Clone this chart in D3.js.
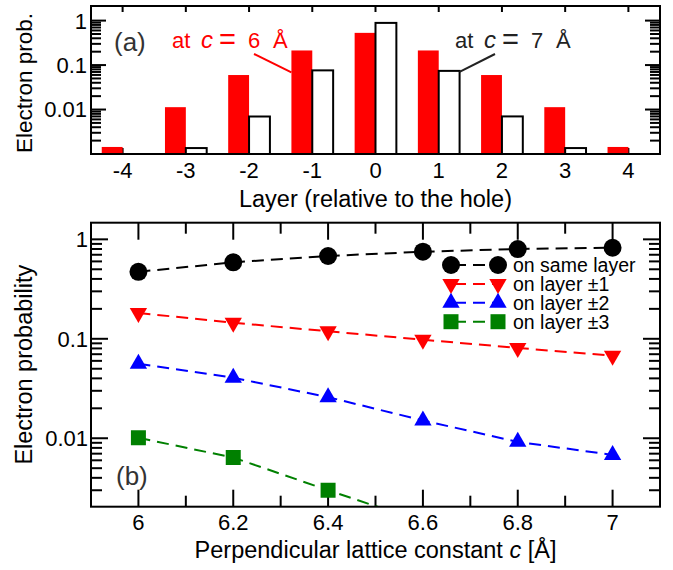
<!DOCTYPE html>
<html>
<head>
<meta charset="utf-8">
<script src="https://cdn.jsdelivr.net/npm/d3@7"></script>
<style>
  body { margin: 0; background: #fff; }
  svg { display: block; }
  text { font-family: 'Liberation Sans', Arial, Helvetica, sans-serif; }
</style>
</head>
<body>
<div id="chart"></div>
<script>
// panel (a): electron probability per layer
const layers = [-4, -3, -2, -1, 0, 1, 2, 3, 4];
const probC6 = [0.00144, 0.0113, 0.0597, 0.213, 0.53, 0.213, 0.0597, 0.0113, 0.00144];
const probC7 = [null, 0.00136, 0.00697, 0.076, 0.888, 0.074, 0.0070, 0.00136, null];

// panel (b): probability vs lattice constant
const latticeC = [6, 6.2, 6.4, 6.6, 6.8, 7];
const sameLayer = [0.472, 0.587, 0.68, 0.751, 0.799, 0.823];
const layer1 = [0.182, 0.145, 0.119, 0.098, 0.081, 0.0675];
const layer2 = [0.0561, 0.0406, 0.0259, 0.0151, 0.0092, 0.0068];
const layer3 = [0.0101, 0.0064, 0.0030, 0.00144]; // last point falls below the frame

const seriesB = [
  { name: 'on same layer', values: sameLayer, color: '#000000', shape: 'circle' },
  { name: 'on layer \u00b11', values: layer1, color: '#ff0000', shape: 'down' },
  { name: 'on layer \u00b12', values: layer2, color: '#0000ff', shape: 'up' },
  { name: 'on layer \u00b13', values: layer3, color: '#008000', shape: 'square' }
];

const xTicksB = [6, 6.2, 6.4, 6.6, 6.8, 7];
const yTicksA = [1, 0.1, 0.01];
const yTicksB = [1, 0.1, 0.01];

const W = 673, H = 570;
const svg = d3.select('#chart').append('svg').attr('width', W).attr('height', H);

const L = 91, R = 660;
const TICK_FS = 22, TITLE_FS = 23.5;

function minorLog(lo, hi) {
  const out = [];
  for (let e = -4; e <= 1; e++) {
    for (let k = 2; k <= 9; k++) {
      const v = k * Math.pow(10, e);
      if (v > lo && v < hi) out.push(v);
    }
  }
  return out;
}

function logTicks(g, y, majors, minors, majLen, minLen) {
  majors.forEach(v => {
    g.append('line').attr('x1', L).attr('x2', L + majLen).attr('y1', y(v)).attr('y2', y(v));
    g.append('line').attr('x1', R).attr('x2', R - majLen).attr('y1', y(v)).attr('y2', y(v));
  });
  minors.forEach(v => {
    g.append('line').attr('x1', L).attr('x2', L + minLen).attr('y1', y(v)).attr('y2', y(v));
    g.append('line').attr('x1', R).attr('x2', R - minLen).attr('y1', y(v)).attr('y2', y(v));
  });
}

// ---------------- panel (a) ----------------
const topA = 6, botA = 154;
const xa = d3.scaleLinear().domain([-4.5, 4.5]).range([L, R]);
const ya = d3.scaleLog().domain([0.001, 2.13]).range([botA, topA]);
const barW = 0.33;

const ga = svg.append('g');
const ticksA = ga.append('g').attr('stroke', '#000').attr('stroke-width', 2);
logTicks(ticksA, ya, yTicksA, minorLog(0.001, 1), 15, 10);
layers.forEach(v => {
  ticksA.append('line').attr('x1', xa(v)).attr('x2', xa(v)).attr('y1', topA).attr('y2', topA + 6);
  ticksA.append('line').attr('x1', xa(v)).attr('x2', xa(v)).attr('y1', botA).attr('y2', botA - 6);
});

ga.append('g').selectAll('rect')
  .data(layers.map((l, i) => ({ l, v: probC6[i] })))
  .join('rect')
  .attr('x', d => xa(d.l - barW))
  .attr('width', d => xa(d.l) - xa(d.l - barW))
  .attr('y', d => ya(d.v))
  .attr('height', d => botA - ya(d.v))
  .attr('fill', '#ff0000');

ga.append('g').selectAll('rect')
  .data(layers.map((l, i) => ({ l, v: probC7[i] })).filter(d => d.v))
  .join('rect')
  .attr('x', d => xa(d.l))
  .attr('width', d => xa(d.l + barW) - xa(d.l))
  .attr('y', d => ya(d.v))
  .attr('height', d => botA - ya(d.v))
  .attr('fill', '#fff')
  .attr('stroke', '#000')
  .attr('stroke-width', 2);

ga.append('rect').attr('x', L).attr('y', topA).attr('width', R - L).attr('height', botA - topA)
  .attr('fill', 'none').attr('stroke', '#000').attr('stroke-width', 2);

ga.append('g').selectAll('text').data(layers).join('text')
  .attr('x', d => xa(d)).attr('y', 178).attr('text-anchor', 'middle')
  .attr('font-size', TICK_FS).text(d => d);
ga.append('g').selectAll('text').data(yTicksA).join('text')
  .attr('x', 87).attr('y', d => ya(d)).attr('dy', '0.36em').attr('text-anchor', 'end')
  .attr('font-size', TICK_FS).text(d => d);

ga.append('text').attr('x', xa(0)).attr('y', 207).attr('text-anchor', 'middle')
  .attr('font-size', TITLE_FS).text('Layer (relative to the hole)');
ga.append('text').attr('transform', `translate(32,${(topA + botA) / 2 + 3}) rotate(-90)`)
  .attr('text-anchor', 'middle').attr('font-size', 22.5).text('Electron prob.');

ga.append('text').attr('x', 114).attr('y', 51).attr('font-size', 26)
  .attr('fill', '#333').attr('font-family', "'Open Sans', 'DejaVu Sans'").attr('font-weight', 300).text('(a)');

// "at c = N Å" labels, pieces placed like the typeset original
function annot(x, y, num, color) {
  const g = ga.append('g').attr('fill', color);
  g.append('text').attr('x', x).attr('y', y).attr('font-size', 22).text('at');
  g.append('text').attr('x', x + 29).attr('y', y).attr('font-size', 24)
    .attr('font-family', "'DejaVu Serif', serif").attr('font-style', 'italic').text('c');
  g.append('text').attr('x', x + 47).attr('y', y + 1).attr('font-size', 29)
    .attr('font-family', "'DejaVu Sans'").attr('font-weight', 300).text('=');
  g.append('text').attr('x', x + 76).attr('y', y).attr('font-size', 22).text(num);
  g.append('text').attr('x', x + 101).attr('y', y).attr('font-size', 22).text('\u00c5');
}
annot(172, 48, 6, '#ff0000');
annot(455, 48, 7, '#222');

ga.append('line').attr('x1', 254).attr('y1', 54)
  .attr('x2', xa(-1 - barW)).attr('y2', ya(probC6[3]) + 22)
  .attr('stroke', '#ff0000').attr('stroke-width', 2);
ga.append('line').attr('x1', 495).attr('y1', 54)
  .attr('x2', xa(1 + barW)).attr('y2', ya(probC7[5]) + 1)
  .attr('stroke', '#222').attr('stroke-width', 2);

// ---------------- panel (b) ----------------
const topB = 222.7, botB = 506.7;
const xb = d3.scaleLinear().domain([5.9, 7.1]).range([L, R]);
const yb = d3.scaleLog().domain([0.00205, 1.47]).range([botB, topB]);

const gb = svg.append('g');
const ticksB = gb.append('g').attr('stroke', '#000').attr('stroke-width', 2);
logTicks(ticksB, yb, yTicksB, minorLog(0.00205, 1), 17, 11);
d3.range(6, 7.05, 0.1).forEach((v, i) => {
  const len = i % 2 === 0 ? 17 : 11;
  ticksB.append('line').attr('x1', xb(v)).attr('x2', xb(v)).attr('y1', topB).attr('y2', topB + len);
  ticksB.append('line').attr('x1', xb(v)).attr('x2', xb(v)).attr('y1', botB).attr('y2', botB - len);
});

gb.append('clipPath').attr('id', 'clipB').append('rect')
  .attr('x', L).attr('y', topB).attr('width', R - L).attr('height', botB - topB);

const sym = {
  circle: d3.symbol(d3.symbolCircle, 254),
  up: d3.symbol(d3.symbolTriangle, 130),
  down: d3.symbol(d3.symbolTriangle, 130),
  square: d3.symbol(d3.symbolSquare, 225)
};
function marker(g, s, x, y) {
  g.append('path').attr('d', sym[s.shape]())
    .attr('transform', `translate(${x},${y})` + (s.shape === 'down' ? ' rotate(180)' : ''))
    .attr('fill', s.color);
}

const plot = gb.append('g').attr('clip-path', 'url(#clipB)');
const line = d3.line().x(d => xb(d[0])).y(d => yb(d[1]));
seriesB.forEach(s => {
  const pts = s.values.map((v, i) => [latticeC[i], v]);
  plot.append('path').attr('d', line(pts)).attr('fill', 'none')
    .attr('stroke', s.color).attr('stroke-width', 2).attr('stroke-dasharray', '12,7');
  pts.forEach(p => marker(plot, s, xb(p[0]), yb(p[1])));
});

gb.append('rect').attr('x', L).attr('y', topB).attr('width', R - L).attr('height', botB - topB)
  .attr('fill', 'none').attr('stroke', '#000').attr('stroke-width', 2);

gb.append('g').selectAll('text').data(xTicksB).join('text')
  .attr('x', d => xb(d)).attr('y', 530).attr('text-anchor', 'middle')
  .attr('font-size', TICK_FS).text(d => d);
gb.append('g').selectAll('text').data(yTicksB).join('text')
  .attr('x', 88).attr('y', d => yb(d)).attr('dy', '0.36em').attr('text-anchor', 'end')
  .attr('font-size', TICK_FS).text(d => d);

const xt = gb.append('text').attr('x', xb(6.5)).attr('y', 558).attr('text-anchor', 'middle')
  .attr('font-size', TITLE_FS);
xt.append('tspan').text('Perpendicular lattice constant ');
xt.append('tspan').attr('font-style', 'italic').text('c');
xt.append('tspan').text(' [\u00c5]');

gb.append('text').attr('transform', `translate(32,${(topB + botB) / 2}) rotate(-90)`)
  .attr('text-anchor', 'middle').attr('font-size', TITLE_FS).text('Electron probability');

gb.append('text').attr('x', 116).attr('y', 485).attr('font-size', 26)
  .attr('fill', '#333').attr('font-family', "'Open Sans', 'DejaVu Sans'").attr('font-weight', 300).text('(b)');

// legend
const lg = gb.append('g');
seriesB.forEach((s, i) => {
  const y = 265 + i * 18.9;
  lg.append('line').attr('x1', 451).attr('x2', 498).attr('y1', y).attr('y2', y)
    .attr('stroke', s.color).attr('stroke-width', 2).attr('stroke-dasharray', '12,7')
    .attr('stroke-dashoffset', -3);
  marker(lg, s, 451, y);
  marker(lg, s, 498, y);
  lg.append('text').attr('x', 513).attr('y', y).attr('dy', '0.36em')
    .attr('font-size', 19.5).text(s.name);
});
</script>
</body>
</html>
